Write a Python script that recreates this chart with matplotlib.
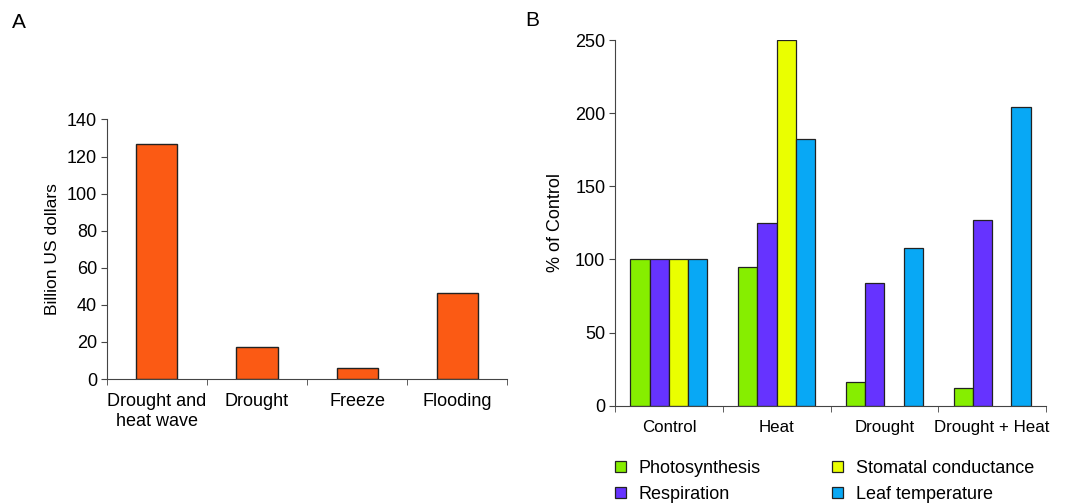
import matplotlib.pyplot as plt
import numpy as np

plt.rcParams["font.family"] = ["Liberation Sans", "DejaVu Sans"]

# panel A: losses by event type
events = ["Drought and\nheat wave", "Drought", "Freeze", "Flooding"]
losses = [127, 17.5, 6, 46.5]
loss_ticks = [0, 20, 40, 60, 80, 100, 120, 140]

# panel B: plant responses, % of control
treatments = ["Control", "Heat", "Drought", "Drought + Heat"]
series = ["Photosynthesis", "Respiration", "Stomatal conductance", "Leaf temperature"]
photosynthesis = [100, 95, 16, 12]
respiration = [100, 125, 84, 127]
stomatal = [100, 250, 0, 0]
leaf_temp = [100, 182, 108, 204]
pct_ticks = [0, 50, 100, 150, 200, 250]

colors = ["#86ee00", "#6633ff", "#eaff00", "#08a8f5"]
orange = "#fb5a14"
edge = "#222222"

fig = plt.figure(figsize=(10.86, 5.04), dpi=100)

# ---- A ----
ax1 = fig.add_axes([0.0985, 0.248, 0.3684, 0.515])
x = np.arange(len(events))
ax1.bar(x, losses, width=0.41, color=orange, edgecolor=edge, linewidth=1.0)
ax1.set_xlim(-0.5, len(events) - 0.5)
ax1.set_ylim(0, 140)
ax1.set_yticks(loss_ticks)
ax1.set_xticks(x)
ax1.set_xticklabels(events, fontsize=13, linespacing=1.25)
ax1.set_xticks(np.arange(len(events) + 1) - 0.5, minor=True)
ax1.tick_params(axis="x", which="major", length=0, pad=10)
ax1.tick_params(axis="x", which="minor", length=4, color="#444444")
ax1.tick_params(axis="y", labelsize=13, length=4, color="#444444", pad=3)
ax1.set_ylabel("Billion US dollars", fontsize=12.5, labelpad=5)
for s in ["top", "right"]:
    ax1.spines[s].set_visible(False)
for s in ["left", "bottom"]:
    ax1.spines[s].set_color("#444444")

# ---- B ----
ax2 = fig.add_axes([0.5663, 0.195, 0.3969, 0.7256])
xb = np.arange(len(treatments))
w = 0.179
vals = [photosynthesis, respiration, stomatal, leaf_temp]
handles = []
for i, (name, v, c) in enumerate(zip(series, vals, colors)):
    offs = (i - 1.5) * w
    bars = ax2.bar(xb + offs, v, width=w, color=c, edgecolor=edge,
                   linewidth=0.9, label=name)
    for b, val in zip(bars, v):
        if val == 0:
            b.set_visible(False)
    handles.append(bars)
ax2.set_xlim(-0.5, len(treatments) - 0.5)
ax2.set_ylim(0, 250)
ax2.set_yticks(pct_ticks)
ax2.set_xticks(xb)
ax2.set_xticklabels(treatments, fontsize=12.2)
ax2.set_xticks(np.arange(len(treatments) + 1) - 0.5, minor=True)
ax2.tick_params(axis="x", which="major", length=0, pad=10)
ax2.tick_params(axis="x", which="minor", length=4, color="#444444")
ax2.tick_params(axis="y", labelsize=13, length=4, color="#444444", pad=3)
ax2.set_ylabel("% of Control", fontsize=13, labelpad=8)
for s in ["top", "right"]:
    ax2.spines[s].set_visible(False)
for s in ["left", "bottom"]:
    ax2.spines[s].set_color("#444444")

fig.legend(handles, series, ncol=2, loc="upper left",
           bbox_to_anchor=(0.566, 0.088), frameon=False, fontsize=13,
           handlelength=0.6, handleheight=0.6, handletextpad=0.7,
           columnspacing=4.0, labelspacing=0.5,
           borderaxespad=0, borderpad=0)

fig.text(0.011, 0.955, "A", fontsize=15, va="center")
fig.text(0.484, 0.96, "B", fontsize=15, va="center")

fig.savefig("out.png", dpi=100, facecolor="white")
